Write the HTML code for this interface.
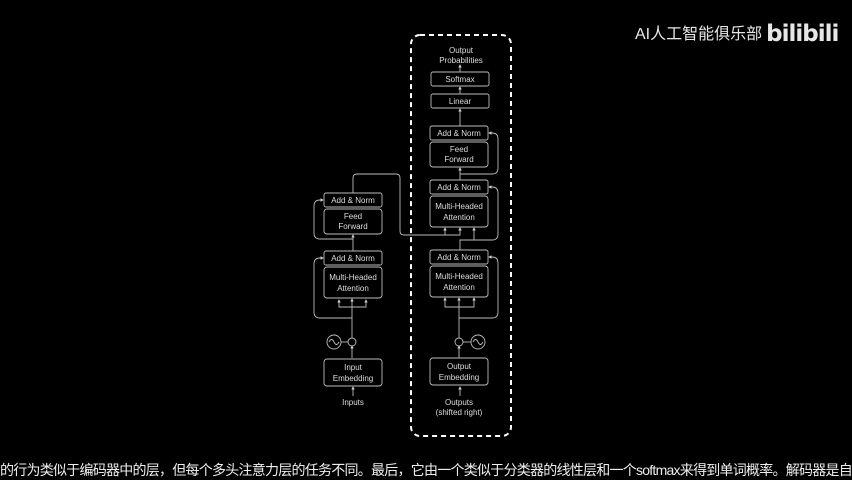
<!DOCTYPE html>
<html><head><meta charset="utf-8"><style>
html,body{margin:0;padding:0;background:#000;width:852px;height:480px;overflow:hidden}
svg{position:absolute;left:0;top:0}
.t{font-family:"Liberation Sans",sans-serif;font-size:8px;fill:#ddd;text-anchor:middle}
.subwrap{position:absolute;left:0;top:460px;width:852px;height:20px;overflow:hidden}
.sub{white-space:nowrap;color:#eee;font-family:"Liberation Sans","Noto Sans CJK SC",sans-serif;font-size:14px;letter-spacing:-0.75px;line-height:20px}
.logo{position:absolute;left:635px;top:20px;color:#e6e6e6;font-family:"Liberation Sans","Noto Sans CJK SC",sans-serif;font-size:16px;white-space:nowrap}
.bili{font-family:"DejaVu Sans",sans-serif;font-weight:bold;font-size:23px;margin-left:4px;letter-spacing:-1px;vertical-align:-2px}
</style></head><body>
<svg width="852" height="480" viewBox="0 0 852 480">
<defs><marker id="a" markerWidth="4" markerHeight="4" refX="3" refY="2" orient="auto"><path d="M0,0L4,2L0,4z" fill="#ccc"/></marker></defs>
<g fill="none" stroke="#bbb" stroke-width="0.9">
<rect x="411" y="35" width="100" height="401" rx="9" stroke="#fff" stroke-width="2" stroke-dasharray="5,4"/>
<rect x="431" y="72" width="58" height="14" rx="2"/>
<rect x="431" y="94" width="58" height="14" rx="2"/>
<rect x="430" y="126" width="58" height="14" rx="2"/>
<rect x="430" y="142" width="58" height="25" rx="3"/>
<rect x="430" y="180" width="58" height="14" rx="2"/>
<rect x="430" y="196" width="58" height="31" rx="3"/>
<rect x="430" y="250" width="58" height="14" rx="2"/>
<rect x="430" y="266" width="58" height="31" rx="3"/>
<rect x="430" y="358" width="58" height="27" rx="3"/>
<rect x="324" y="193" width="58" height="14" rx="2"/>
<rect x="324" y="209" width="58" height="25" rx="3"/>
<rect x="324" y="251" width="58" height="14" rx="2"/>
<rect x="324" y="267" width="58" height="31" rx="3"/>
<rect x="324" y="359" width="58" height="27" rx="3"/>
<circle cx="352" cy="342" r="4"/><circle cx="334" cy="342" r="7"/>
<path d="M329,342q2.5,-5 5,0t5,0"/><line x1="341" y1="342" x2="348" y2="342"/>
<circle cx="459" cy="342" r="4"/><circle cx="478" cy="342" r="7"/>
<path d="M473,342q2.5,-5 5,0t5,0"/><line x1="463" y1="342" x2="471" y2="342"/>
</g>
<g fill="none" stroke="#bbb" stroke-width="0.9" marker-end="url(#a)">
<line x1="353" y1="396" x2="353" y2="387"/>
<line x1="352" y1="358" x2="352" y2="346"/>
<line x1="352" y1="338" x2="352" y2="299"/>
<path d="M352,318H320q-6,0 -6,-6V264q0,-6 6,-6h3"/>
<path d="M352,307H339v-7"/><path d="M352,307H366v-7"/>
<line x1="353" y1="251" x2="353" y2="235"/>
<path d="M353,239H320q-6,0 -6,-6V206q0,-6 6,-6h3"/>
<path d="M353,193V178q0,-4 4,-4H396q4,0 4,4V231q0,4 4,4H445v-7"/>
<path d="M445,235H460v-7"/>
<line x1="460" y1="396" x2="460" y2="387"/>
<line x1="459" y1="358" x2="459" y2="346"/>
<line x1="459" y1="338" x2="459" y2="298"/>
<path d="M459,318H492q6,0 6,-6V263q0,-6 -6,-6h-3"/>
<path d="M459,307H445v-9"/><path d="M459,307H474v-9"/>
<path d="M460,250V240H474v-12"/>
<path d="M474,240H492q6,0 6,-6V193q0,-6 -6,-6h-3"/>
<line x1="460" y1="180" x2="460" y2="168"/>
<path d="M460,174H492q6,0 6,-6V139q0,-6 -6,-6h-3"/>
<line x1="460" y1="126" x2="460" y2="109"/>
<line x1="460" y1="94" x2="460" y2="87"/>
<line x1="460" y1="72" x2="460" y2="65"/>
</g>
<g class="t">
<text x="461" y="53">Output</text><text x="461" y="63">Probabilities</text>
<text x="460" y="82">Softmax</text><text x="460" y="104">Linear</text>
<text x="459" y="136">Add &amp; Norm</text>
<text x="459" y="152">Feed</text><text x="459" y="162">Forward</text>
<text x="459" y="190">Add &amp; Norm</text>
<text x="459" y="209">Multi-Headed</text><text x="459" y="220">Attention</text>
<text x="459" y="260">Add &amp; Norm</text>
<text x="459" y="279">Multi-Headed</text><text x="459" y="290">Attention</text>
<text x="459" y="369">Output</text><text x="459" y="380">Embedding</text>
<text x="459" y="405">Outputs</text><text x="459" y="415">(shifted right)</text>
<text x="353" y="203">Add &amp; Norm</text>
<text x="353" y="219">Feed</text><text x="353" y="229">Forward</text>
<text x="353" y="261">Add &amp; Norm</text>
<text x="353" y="280">Multi-Headed</text><text x="353" y="291">Attention</text>
<text x="353" y="370">Input</text><text x="353" y="381">Embedding</text>
<text x="353" y="405">Inputs</text>
</g>
</svg>
<div class="logo">AI人工智能俱乐部<span class="bili">bilibili</span></div>
<div class="subwrap"><div class="sub">的行为类似于编码器中的层，但每个多头注意力层的任务不同。最后，它由一个类似于分类器的线性层和一个softmax来得到单词概率。解码器是自</div></div>
</body></html>
